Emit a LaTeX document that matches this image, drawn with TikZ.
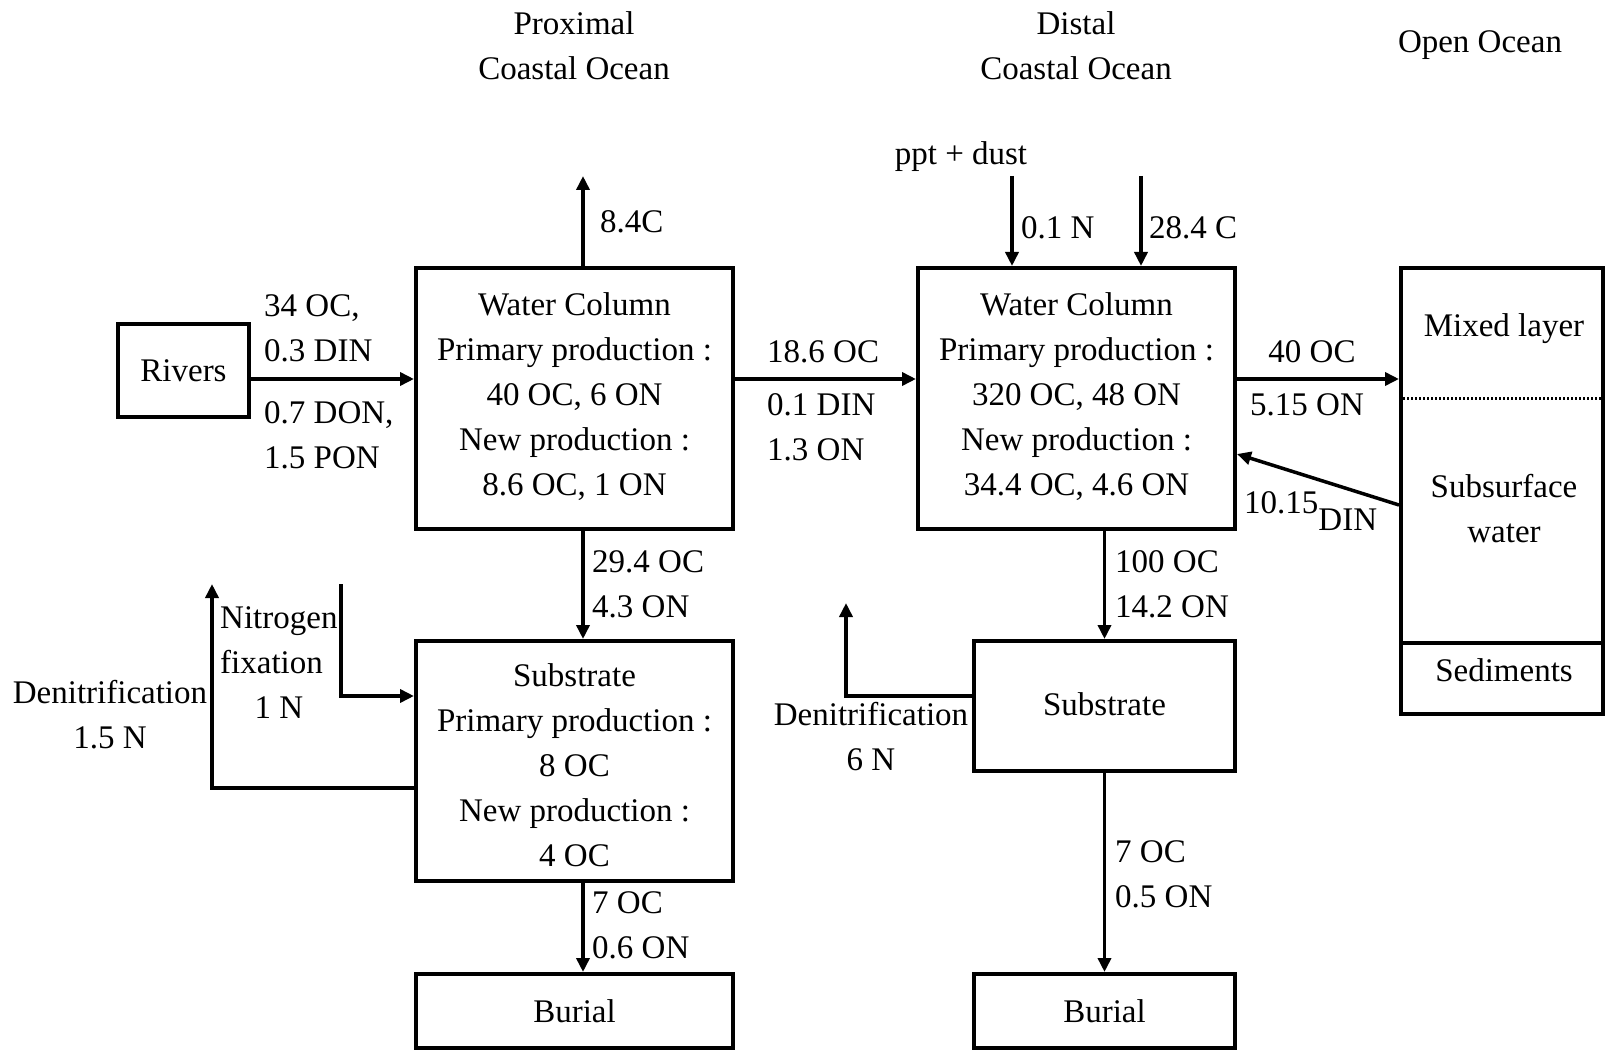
\documentclass[tikz,border=0pt]{standalone}
\usepackage{fontspec}
\setmainfont{Liberation Serif}
\usetikzlibrary{arrows.meta}
\begin{document}
\begin{tikzpicture}[x=1pt,y=-1pt,
  every node/.style={font=\fontsize{33}{45}\selectfont},
  box/.style={draw,line width=4pt,rectangle,inner sep=0pt,align=center},
  arr/.style={line width=3.5pt,-{Triangle[length=14pt,width=13pt]}},
  lab/.style={inner sep=0pt,align=left},
  labc/.style={inner sep=0pt,align=center}]
\useasboundingbox (0,0) rectangle (1607,1051);
% boxes
\node[box,minimum width=131,minimum height=93] (rivers) at (183.5,370.5) {Rivers};
\node[box,minimum width=317,minimum height=261] (wc1) at (574.5,398.5) {};
\node[labc] (wc1t) at (574.5,396.5) {Water Column\\Primary production :\\40 OC, 6 ON\\New production :\\8.6 OC, 1 ON};
\node[box,minimum width=317,minimum height=240] (sub1) at (574.5,761) {};
\node[labc] (sub1t) at (574.5,765) {Substrate\\Primary production :\\8 OC\\New production :\\4 OC};
\node[box,minimum width=317,minimum height=74] (bur1) at (574.5,1011) {Burial};
\node[box,minimum width=317,minimum height=261] (wc2) at (1076.5,398.5) {};
\node[labc] (wc2t) at (1076.5,396.5) {Water Column\\Primary production :\\320 OC, 48 ON\\New production :\\34.4 OC, 4.6 ON};
\node[box,minimum width=261,minimum height=130] (sub2) at (1104.5,706) {};
\node[labc] (sub2t) at (1104.5,704) {Substrate};
\node[box,minimum width=261,minimum height=74] (bur2) at (1104.5,1011) {Burial};
\node[box,minimum width=202,minimum height=446] (ocean) at (1502,491) {};
\draw[line width=4pt] (ocean.west |- 0,643) -- (ocean.east |- 0,643);
\draw[line width=3pt,dash pattern=on 2pt off 2pt] (ocean.west |- 0,398) -- (ocean.east |- 0,398);
\node[labc] (ml) at (1504,329) {Mixed layer};
\node[labc] (sw) at (1504,508.5) {Subsurface\\water};
\node[labc] (sed) at (1504,670) {Sediments};
% headers
\node[labc] (hprox) at (574,46) {Proximal\\Coastal Ocean};
\node[labc] (hdist) at (1076,46) {Distal\\Coastal Ocean};
\node[labc] (hopen) at (1480,45) {Open Ocean};
\node[labc] (ppt) at (961,157) {ppt + dust};
% coordinates
\coordinate (ya) at (0,379);
\coordinate (t84) at (583,176);
\coordinate (p1) at (1012,176);
\coordinate (p2) at (1141,176);
\coordinate (dinA) at (0,505);
\coordinate (dinB) at (0,454);
\coordinate (d1) at (212,584);
\coordinate (nf) at (341,584);
\coordinate (d2) at (846,603);
% arrows
\draw[arr] (t84 |- wc1.north) -- (t84);
\draw[arr] (rivers.east |- ya) -- (wc1.west |- ya);
\draw[arr] (wc1.east |- ya) -- (wc2.west |- ya);
\draw[arr] (wc2.east |- ya) -- (ocean.west |- ya);
\draw[arr] (p1) -- (p1 |- wc2.north);
\draw[arr] (p2) -- (p2 |- wc2.north);
\draw[arr] (ocean.west |- dinA) -- (wc2.east |- dinB);
\draw[arr] (t84 |- wc1.south) -- (t84 |- sub1.north);
\draw[arr] (t84 |- sub1.south) -- (t84 |- bur1.north);
\draw[arr] (sub2.north |- wc2.south) -- (sub2.north);
\draw[arr] (sub2.south) -- (bur2.north);
\draw[arr] (sub1.west |- 0,788) -- (d1 |- 0,788) -- (d1);
\draw[arr] (nf) -- (nf |- 0,696) -- (sub1.west |- 0,696);
\draw[arr] (sub2.west |- 0,696) -- (d2 |- 0,696) -- (d2);
% labels
\node[lab,anchor=west] (l84) at (600,222) {8.4C};
\node[lab,anchor=west] (l01n) at (1021,228) {0.1 N};
\node[lab,anchor=west] (l284) at (1149,228) {28.4 C};
\node[lab,anchor=west] (lriv1) at (264,328) {34 OC,\\0.3 DIN};
\node[lab,anchor=west] (lriv2) at (264,435.5) {0.7 DON,\\1.5 PON};
\node[lab,anchor=west] (l186) at (767,352) {18.6 OC};
\node[lab,anchor=west] (l01din) at (767,427.5) {0.1 DIN\\1.3 ON};
\node[labc] (l40) at (1312,352) {40 OC};
\node[labc] (l515) at (1307,405) {5.15 ON};
\node[lab,anchor=base west] (l1015) at (1244,513) {10.15\raisebox{-17pt}{DIN}};
\node[lab,anchor=west] (l294) at (592,584.5) {29.4 OC\\4.3 ON};
\node[lab,anchor=west] (l100) at (1115,584.5) {100 OC\\14.2 ON};
\node[lab,anchor=west] (lnf) at (220,640.5) {Nitrogen\\fixation};
\node[labc] (lnf1) at (279,708) {1 N};
\node[labc] (lden1) at (110,714.5) {Denitrification\\1.5 N};
\node[labc] (lden2) at (871,736.5) {Denitrification\\6 N};
\node[lab,anchor=west] (lb1) at (592,925.5) {7 OC\\0.6 ON};
\node[lab,anchor=west] (lb2) at (1115,874) {7 OC\\0.5 ON};
\end{tikzpicture}
\end{document}
